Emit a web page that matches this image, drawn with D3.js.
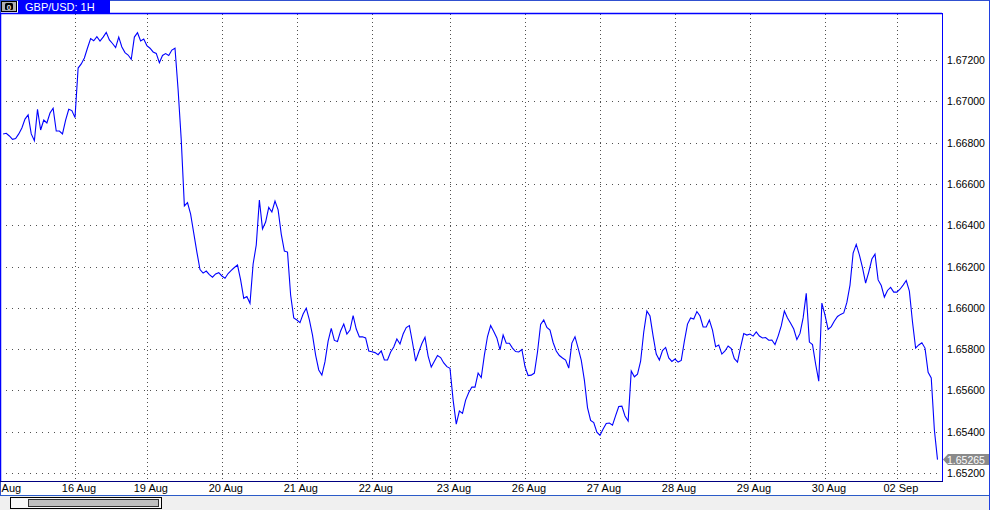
<!DOCTYPE html>
<html><head><meta charset="utf-8">
<script src="https://cdn.jsdelivr.net/npm/d3@7/dist/d3.min.js"></script>
<style>
html,body{margin:0;padding:0;background:#fff;overflow:hidden}
text{font-family:"Liberation Sans",Arial,sans-serif;}
</style></head>
<body>
<svg id="c" width="990" height="510"></svg>
<script>
// ---- data ----
const title = "GBP/USD: 1H";
const firstHour = 1; // hour index of first price
const prices = [
1.66842,1.66845,1.66832,1.66816,1.66820,1.66842,1.66871,1.66914,1.66934,1.66842,
1.66809,1.66961,1.66861,1.66909,1.66895,1.66943,1.66966,1.66856,1.66856,1.66842,
1.66909,1.66961,1.66955,1.66921,1.67161,1.67181,1.67210,1.67258,1.67304,1.67293,
1.67313,1.67292,1.67311,1.67334,1.67297,1.67280,1.67260,1.67311,1.67263,1.67236,
1.67224,1.67203,1.67311,1.67332,1.67292,1.67302,1.67270,1.67257,1.67239,1.67232,
1.67187,1.67222,1.67231,1.67222,1.67248,1.67257,1.67055,1.66813,1.66493,1.66509,
1.66454,1.66362,1.66270,1.66185,1.66168,1.66178,1.66161,1.66148,1.66164,1.66170,
1.66154,1.66143,1.66166,1.66181,1.66195,1.66207,1.66135,1.66046,1.66055,1.66022,
1.66212,1.66304,1.66522,1.66382,1.66415,1.66486,1.66464,1.66517,1.66474,1.66357,
1.66275,1.66270,1.66062,1.65951,1.65941,1.65928,1.65970,1.65998,1.65941,1.65868,
1.65771,1.65699,1.65674,1.65739,1.65839,1.65900,1.65842,1.65837,1.65888,1.65921,
1.65873,1.65892,1.65962,1.65897,1.65859,1.65860,1.65854,1.65791,1.65787,1.65783,
1.65773,1.65791,1.65747,1.65747,1.65786,1.65810,1.65849,1.65825,1.65873,1.65904,
1.65914,1.65832,1.65742,1.65786,1.65827,1.65857,1.65766,1.65713,1.65741,1.65769,
1.65759,1.65733,1.65715,1.65707,1.65553,1.65437,1.65500,1.65489,1.65553,1.65590,
1.65616,1.65616,1.65684,1.65662,1.65771,1.65861,1.65914,1.65885,1.65854,1.65796,
1.65868,1.65828,1.65828,1.65805,1.65788,1.65786,1.65798,1.65715,1.65672,1.65674,
1.65684,1.65786,1.65919,1.65941,1.65905,1.65892,1.65832,1.65791,1.65769,1.65757,
1.65747,1.65708,1.65829,1.65860,1.65805,1.65747,1.65650,1.65517,1.65455,1.65444,
1.65398,1.65382,1.65413,1.65440,1.65442,1.65432,1.65478,1.65522,1.65524,1.65476,
1.65452,1.65694,1.65666,1.65679,1.65742,1.65883,1.65984,1.65960,1.65863,1.65776,
1.65747,1.65793,1.65808,1.65757,1.65740,1.65752,1.65737,1.65745,1.65839,1.65921,
1.65951,1.65946,1.65982,1.65960,1.65907,1.65907,1.65941,1.65892,1.65812,1.65820,
1.65776,1.65791,1.65815,1.65803,1.65754,1.65737,1.65810,1.65875,1.65868,1.65873,
1.65863,1.65883,1.65863,1.65854,1.65856,1.65843,1.65844,1.65822,1.65863,1.65912,
1.65984,1.65951,1.65925,1.65897,1.65846,1.65876,1.65951,1.66070,1.65834,1.65822,
1.65728,1.65645,1.66023,1.65965,1.65895,1.65909,1.65936,1.65958,1.65968,1.65975,
1.66026,1.66110,1.66265,1.66307,1.66256,1.66195,1.66120,1.66173,1.66236,1.66260,
1.66135,1.66108,1.66052,1.66084,1.66099,1.66076,1.66076,1.66090,1.66110,1.66132,
1.66081,1.65931,1.65805,1.65820,1.65831,1.65805,1.65688,1.65660,1.65408,1.65265
];
const dateLabels = ["15 Aug","16 Aug","19 Aug","20 Aug","21 Aug","22 Aug","23 Aug","26 Aug","27 Aug","28 Aug","29 Aug","30 Aug","02 Sep"];
const dateHours  = [0,24,47,71,95,119,144,168,192,216,240,264,287];
const priceTicks = [1.652,1.654,1.656,1.658,1.660,1.662,1.664,1.666,1.668,1.670,1.672];

// ---- layout ----
const W = 990, H = 510;
const PL = 0, PR = 942, PT = 14, PB = 481;
const svg = d3.select("#c");

const x = d3.scaleLinear().domain([0, 301.44]).range([PL, PR]);
const y = d3.scaleLinear().domain([1.652, 1.672]).range([473, 60]);

// outer frame
svg.append("rect").attr("x",0.5).attr("y",0.5).attr("width",W-1).attr("height",H-1)
  .attr("fill","#fff").attr("stroke","#3050d0");

// bottom gray scroll area
svg.append("rect").attr("x",0).attr("y",496).attr("width",W-1).attr("height",14).attr("fill","#f0f0f0");
svg.append("line").attr("x1",0).attr("x2",W).attr("y1",495.5).attr("y2",495.5).attr("stroke","#2a5bc8");
svg.append("line").attr("x1",W-0.5).attr("x2",W-0.5).attr("y1",0).attr("y2",H).attr("stroke","#2040e0");

// scrollbar
svg.append("rect").attr("x",10.5).attr("y",497.5).attr("width",151).attr("height",11)
  .attr("fill","#f8f8f8").attr("stroke","#000");
svg.append("rect").attr("x",28.5).attr("y",499.5).attr("width",130).attr("height",7)
  .attr("fill","#c0c0c0").attr("stroke","#303030");

// grid
const grid = svg.append("g");
grid.selectAll("line.h").data(priceTicks).join("line")
  .attr("x1",PL).attr("x2",PR)
  .attr("y1",d=>Math.round(y(d))+0.5).attr("y2",d=>Math.round(y(d))+0.5)
  .attr("stroke","#505050").attr("stroke-dasharray","1,5");
grid.selectAll("line.v").data(dateHours.filter(h=>h>0)).join("line")
  .attr("x1",d=>Math.round(x(d))+0.5).attr("x2",d=>Math.round(x(d))+0.5)
  .attr("y1",PT).attr("y2",PB)
  .attr("stroke","#505050").attr("stroke-dasharray","1,3");

// clip
svg.append("clipPath").attr("id","pc").append("rect")
  .attr("x",PL+1).attr("y",PT+1).attr("width",PR-PL-1).attr("height",PB-PT-1);

// line
const line = d3.line().x((d,i)=>x(i+firstHour)).y(d=>y(d));
svg.append("path").datum(prices).attr("clip-path","url(#pc)")
  .attr("d",line).attr("fill","none").attr("stroke","#0000ff").attr("stroke-width",1.1)
  .attr("stroke-linejoin","miter");

// plot frame
svg.append("line").attr("x1",0).attr("x2",PR).attr("y1",PT-0.5).attr("y2",PT-0.5).attr("stroke","#0000ff").attr("stroke-width",1.5);
svg.append("line").attr("x1",PR+0.5).attr("x2",PR+0.5).attr("y1",PT-1).attr("y2",PB+1).attr("stroke","#0000ff");
svg.append("line").attr("x1",0.5).attr("x2",0.5).attr("y1",PT).attr("y2",PB).attr("stroke","#0000ff").attr("stroke-width",1.5);
svg.append("line").attr("x1",0).attr("x2",PR+1).attr("y1",PB+0.5).attr("y2",PB+0.5).attr("stroke","#000080");

// right axis labels
svg.append("g").selectAll("text").data(priceTicks).join("text")
  .attr("x",947).attr("y",d=>y(d)+4).attr("font-size",10.5).attr("fill","#000")
  .text(d=>d.toFixed(5));

// bottom date labels
svg.append("g").selectAll("text").data(dateLabels).join("text")
  .attr("x",(d,i)=>x(dateHours[i])+4).attr("y",492).attr("text-anchor","middle")
  .attr("font-size",11).attr("fill","#000").text(d=>d);

// last price marker
const last = prices[prices.length-1];
const ly = y(last);
svg.append("path")
  .attr("d",`M943,${ly} L948,${ly-5.5} L989,${ly-5.5} L989,${ly+5.5} L948,${ly+5.5} Z`)
  .attr("fill","#8a8a8a");
svg.append("text").attr("x",947).attr("y",ly+4).attr("font-size",10.5).attr("fill","#fff").text(last.toFixed(5));

// title bar
svg.append("rect").attr("x",18).attr("y",0).attr("width",92).attr("height",13).attr("fill","#0000ff");
svg.append("text").attr("x",25).attr("y",10.5).attr("font-size",11).attr("fill","#fff").text(title);
// icon
svg.append("rect").attr("x",1.5).attr("y",1.5).attr("width",15).attr("height",10)
  .attr("fill","#b0b0b0").attr("stroke","#000");
svg.append("rect").attr("x",5).attr("y",3).attr("width",8).attr("height",7).attr("rx",1.5).attr("fill","#000");
svg.append("text").attr("x",9).attr("y",9.5).attr("text-anchor","middle").attr("font-size",8)
  .attr("font-weight","bold").attr("fill","#e0e0e0").text("0");
</script>
</body></html>
